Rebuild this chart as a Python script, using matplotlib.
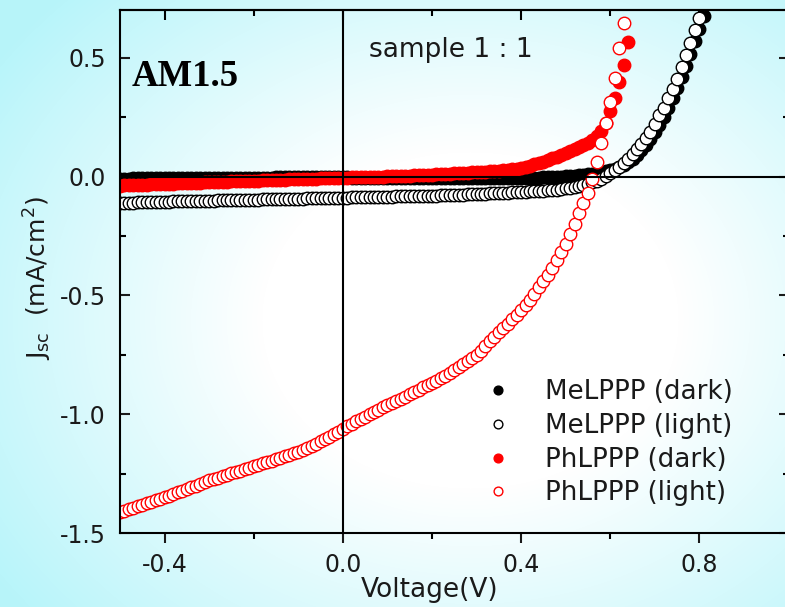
import matplotlib
matplotlib.use("Agg")
import matplotlib.pyplot as plt
import numpy as np

# Tensão aplicada (V), passo de 0.01 V
voltage = [
    -0.50, -0.49, -0.48, -0.47, -0.46, -0.45, -0.44, -0.43, -0.42, -0.41,
    -0.40, -0.39, -0.38, -0.37, -0.36, -0.35, -0.34, -0.33, -0.32, -0.31,
    -0.30, -0.29, -0.28, -0.27, -0.26, -0.25, -0.24, -0.23, -0.22, -0.21,
    -0.20, -0.19, -0.18, -0.17, -0.16, -0.15, -0.14, -0.13, -0.12, -0.11,
    -0.10, -0.09, -0.08, -0.07, -0.06, -0.05, -0.04, -0.03, -0.02, -0.01,
    0.00, 0.01, 0.02, 0.03, 0.04, 0.05, 0.06, 0.07, 0.08, 0.09,
    0.10, 0.11, 0.12, 0.13, 0.14, 0.15, 0.16, 0.17, 0.18, 0.19,
    0.20, 0.21, 0.22, 0.23, 0.24, 0.25, 0.26, 0.27, 0.28, 0.29,
    0.30, 0.31, 0.32, 0.33, 0.34, 0.35, 0.36, 0.37, 0.38, 0.39,
    0.40, 0.41, 0.42, 0.43, 0.44, 0.45, 0.46, 0.47, 0.48, 0.49,
    0.50, 0.51, 0.52, 0.53, 0.54, 0.55, 0.56, 0.57, 0.58, 0.59,
    0.60, 0.61, 0.62, 0.63, 0.64, 0.65, 0.66, 0.67, 0.68, 0.69,
    0.70, 0.71, 0.72, 0.73, 0.74, 0.75, 0.76, 0.77, 0.78, 0.79,
    0.80, 0.81, 0.82,
]

# Densidade de corrente (mA/cm2)
me_dark = [
    -0.009, -0.009, -0.009, -0.008, -0.008, -0.008, -0.008, -0.008, -0.008, -0.007,
    -0.007, -0.007, -0.007, -0.007, -0.007, -0.006, -0.006, -0.006, -0.006, -0.006,
    -0.006, -0.006, -0.006, -0.005, -0.005, -0.005, -0.005, -0.005, -0.005, -0.005,
    -0.005, -0.005, -0.005, -0.005, -0.005, -0.004, -0.004, -0.004, -0.004, -0.004,
    -0.004, -0.004, -0.004, -0.004, -0.004, -0.004, -0.004, -0.004, -0.004, -0.004,
    -0.004, -0.004, -0.005, -0.005, -0.005, -0.005, -0.005, -0.005, -0.006, -0.006,
    -0.006, -0.006, -0.006, -0.006, -0.007, -0.007, -0.007, -0.007, -0.007, -0.007,
    -0.008, -0.008, -0.008, -0.008, -0.008, -0.008, -0.008, -0.008, -0.008, -0.008,
    -0.008, -0.008, -0.008, -0.008, -0.008, -0.008, -0.008, -0.008, -0.008, -0.007,
    -0.007, -0.007, -0.006, -0.006, -0.005, -0.004, -0.003, -0.002, -0.001, 0.000,
    0.001, 0.002, 0.004, 0.006, 0.008, 0.010, 0.012, 0.015, 0.018, 0.022,
    0.027, 0.033, 0.040, 0.049, 0.060, 0.074, 0.091, 0.110, 0.132, 0.157,
    0.186, 0.218, 0.252, 0.289, 0.330, 0.372, 0.418, 0.466, 0.516, 0.568,
    0.622, 0.676, 0.732,
]

me_light = [
    -0.111, -0.111, -0.110, -0.110, -0.109, -0.109, -0.108, -0.108, -0.107, -0.107,
    -0.106, -0.106, -0.105, -0.105, -0.104, -0.104, -0.103, -0.103, -0.102, -0.102,
    -0.101, -0.101, -0.100, -0.100, -0.100, -0.099, -0.099, -0.098, -0.098, -0.097,
    -0.097, -0.097, -0.096, -0.096, -0.095, -0.095, -0.095, -0.094, -0.094, -0.093,
    -0.093, -0.093, -0.092, -0.092, -0.091, -0.091, -0.091, -0.090, -0.090, -0.089,
    -0.089, -0.089, -0.088, -0.088, -0.087, -0.087, -0.087, -0.086, -0.086, -0.085,
    -0.085, -0.085, -0.084, -0.084, -0.083, -0.083, -0.082, -0.082, -0.081, -0.081,
    -0.080, -0.080, -0.079, -0.078, -0.078, -0.077, -0.076, -0.076, -0.075, -0.074,
    -0.073, -0.073, -0.072, -0.071, -0.070, -0.070, -0.069, -0.068, -0.067, -0.066,
    -0.065, -0.064, -0.063, -0.062, -0.061, -0.059, -0.058, -0.057, -0.055, -0.053,
    -0.050, -0.047, -0.044, -0.040, -0.036, -0.031, -0.025, -0.018, -0.010, 0.002,
    0.014, 0.027, 0.042, 0.058, 0.075, 0.094, 0.115, 0.137, 0.162, 0.189,
    0.222, 0.257, 0.290, 0.328, 0.368, 0.412, 0.460, 0.510, 0.562, 0.615,
    0.668, 0.722,
]

ph_dark = [
    -0.038, -0.037, -0.037, -0.036, -0.035, -0.035, -0.034, -0.033, -0.033, -0.032,
    -0.031, -0.031, -0.030, -0.029, -0.029, -0.028, -0.027, -0.027, -0.026, -0.025,
    -0.024, -0.024, -0.023, -0.022, -0.022, -0.021, -0.020, -0.020, -0.019, -0.018,
    -0.018, -0.017, -0.016, -0.016, -0.015, -0.014, -0.014, -0.013, -0.012, -0.012,
    -0.011, -0.011, -0.010, -0.010, -0.009, -0.008, -0.008, -0.007, -0.007, -0.006,
    -0.005, -0.005, -0.004, -0.003, -0.003, -0.002, -0.002, -0.001, 0.000, 0.000,
    0.001, 0.002, 0.002, 0.003, 0.004, 0.004, 0.005, 0.006, 0.007, 0.007,
    0.008, 0.009, 0.010, 0.011, 0.012, 0.013, 0.014, 0.015, 0.016, 0.017,
    0.018, 0.019, 0.021, 0.022, 0.024, 0.025, 0.027, 0.029, 0.031, 0.033,
    0.035, 0.040, 0.045, 0.051, 0.058, 0.063, 0.069, 0.076, 0.083, 0.090,
    0.098, 0.106, 0.114, 0.122, 0.132, 0.142, 0.155, 0.170, 0.190, 0.227,
    0.275, 0.332, 0.398, 0.468, 0.565,
]

ph_light = [
    -1.412, -1.406, -1.399, -1.393, -1.387, -1.381, -1.374, -1.368, -1.362, -1.355,
    -1.349, -1.342, -1.335, -1.328, -1.321, -1.314, -1.307, -1.300, -1.293, -1.285,
    -1.278, -1.272, -1.266, -1.260, -1.254, -1.248, -1.242, -1.236, -1.230, -1.224,
    -1.218, -1.212, -1.206, -1.200, -1.194, -1.188, -1.182, -1.176, -1.170, -1.164,
    -1.158, -1.150, -1.141, -1.132, -1.123, -1.114, -1.104, -1.094, -1.084, -1.073,
    -1.062, -1.051, -1.040, -1.029, -1.019, -1.009, -1.000, -0.990, -0.980, -0.970,
    -0.961, -0.952, -0.943, -0.934, -0.925, -0.915, -0.906, -0.896, -0.887, -0.877,
    -0.868, -0.858, -0.848, -0.837, -0.825, -0.814, -0.801, -0.789, -0.777, -0.764,
    -0.751, -0.733, -0.713, -0.693, -0.676, -0.655, -0.638, -0.620, -0.601, -0.582,
    -0.563, -0.542, -0.518, -0.492, -0.466, -0.440, -0.415, -0.385, -0.353, -0.318,
    -0.282, -0.242, -0.200, -0.155, -0.112, -0.068, -0.010, 0.060, 0.140, 0.225,
    0.315, 0.415, 0.540, 0.645,
]

x_major = [-0.4, 0.0, 0.4, 0.8]
x_minor = [-0.2, 0.2, 0.6, 1.0]
y_major = [-1.5, -1.0, -0.5, 0.0, 0.5]
y_minor = [-1.25, -0.75, -0.25, 0.25]

plt.rcParams["axes.unicode_minus"] = False
plt.rcParams["mathtext.default"] = "regular"
plt.rcParams["font.family"] = "DejaVu Sans"

W, H = 785, 607
fig = plt.figure(figsize=(W / 100, H / 100), dpi=100)

# Fundo em degradê (branco no centro, ciano nas bordas)
bg = fig.add_axes([0, 0, 1, 1], zorder=-10)
yy, xx = np.mgrid[0:H, 0:W]
r = np.sqrt(((xx - 470) / 520.0) ** 2 + ((yy - 320) / 420.0) ** 2)
t = np.clip((r - 0.4) / 0.7, 0, 1)[..., None]
edge = np.array([0.72, 0.96, 0.98])
img = (1 - t) * np.ones(3) + t * edge
bg.imshow(img, aspect="auto", interpolation="bilinear")
bg.axis("off")

# Eixo principal (lado direito passa um pouco da borda da figura)
ax = fig.add_axes([120 / W, (H - 533.3) / H, 668.5 / W, 523.3 / H])
ax.set_facecolor("none")

n = len
ms = 9.0
ax.plot(voltage[:n(me_dark)], me_dark, "o", ms=ms, color="black",
        mec="black", mew=1.0, label="MeLPPP (dark)")
ax.plot(voltage[:n(me_light)], me_light, "o", ms=ms, mfc="white",
        mec="black", mew=1.0, label="MeLPPP (light)")
ax.plot(voltage[:n(ph_dark)], ph_dark, "o", ms=ms, color="red",
        mec="red", mew=1.0, label="PhLPPP (dark)")
ax.plot(voltage[:n(ph_light)], ph_light, "o", ms=ms, mfc="white",
        mec="red", mew=1.0, label="PhLPPP (light)")

ax.axhline(0, color="black", lw=1.5, zorder=5)
ax.axvline(0, color="black", lw=1.5, zorder=5)

ax.set_xlim(-0.5, 1.0)
ax.set_ylim(-1.5, 0.7)

ax.set_xticks(x_major)
ax.set_xticks(x_minor, minor=True)
ax.set_xticklabels(["%.1f" % v for v in x_major])
ax.set_yticks(y_major)
ax.set_yticks(y_minor, minor=True)
ax.set_yticklabels(["%.1f" % v for v in y_major])

for s in ax.spines.values():
    s.set_linewidth(1.5)

ax.tick_params(axis="x", which="major", direction="out", length=7, width=1.5,
               pad=7, labelsize=17, colors="#1a1a1a")
ax.tick_params(axis="x", which="minor", direction="out", length=4, width=1.5)
ax.tick_params(axis="y", which="major", direction="in", length=7, width=1.5,
               left=True, right=True, pad=10, labelsize=17, colors="#1a1a1a")
ax.tick_params(axis="y", which="minor", direction="in", length=4, width=1.5,
               left=True, right=True)

# Ticks do topo voltados para dentro
top = ax.secondary_xaxis("top")
top.set_xticks(x_major)
top.set_xticks(x_minor, minor=True)
top.tick_params(which="major", direction="in", length=7, width=1.5, labeltop=False)
top.tick_params(which="minor", direction="in", length=4, width=1.5)
top.spines["top"].set_linewidth(1.5)

# Textos
fig.text(132 / W, 1 - 86 / H, "AM1.5", family="Liberation Serif",
         weight="bold", fontsize=26.5, va="baseline", ha="left")
fig.text(369 / W, 1 - 57 / H, "sample 1 : 1", fontsize=19,
         va="baseline", ha="left", color="#1a1a1a")
fig.text(430 / W, 1 - 577 / H, "Voltage(V)", fontsize=19,
         va="top", ha="center", color="#1a1a1a")
fig.text(38 / W, 1 - 278 / H, r"J$_{sc}$  (mA/cm$^2$)", fontsize=18,
         rotation=90, va="center", ha="center", color="#1a1a1a")

leg = ax.legend(loc="upper left", bbox_to_anchor=(485 / W, 1 - 379 / H),
                bbox_transform=fig.transFigure, frameon=False, fontsize=18.8,
                markerscale=0.7, handlelength=1.0, handletextpad=1.3,
                labelspacing=0.3, borderpad=0, borderaxespad=0)
for txt in leg.get_texts():
    txt.set_color("#1a1a1a")

fig.savefig("out.png", dpi=100)
